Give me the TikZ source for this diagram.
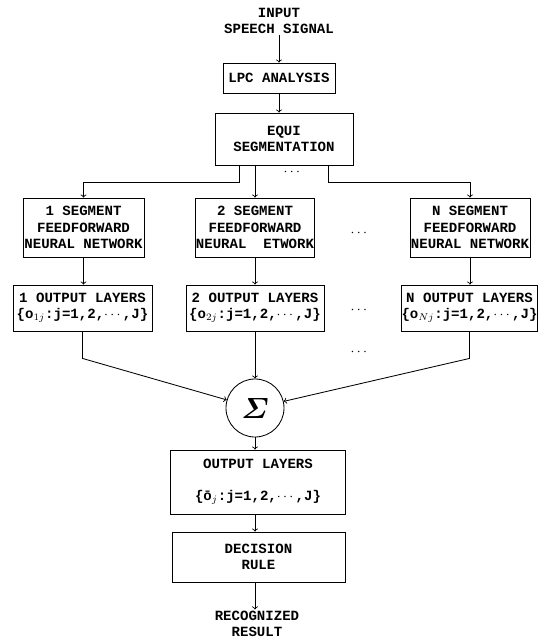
\documentclass[tikz,border=0pt]{standalone}
\usepackage{amsmath}
\usepackage{fontspec}
\setmonofont{Liberation Mono}

\tikzstyle{block}=[draw, semithick, align=center, inner sep=0pt, font=\ttfamily\bfseries\fontsize{10}{11.5}\selectfont]
\tikzstyle{plaintext}=[align=center, inner sep=1pt, font=\ttfamily\bfseries\fontsize{10}{11.5}\selectfont]
\tikzstyle{arrow}=[semithick, ->]
\tikzstyle{dots}=[font=\bfseries]

\begin{document}
\begin{tikzpicture}[x=0.025cm, y=-0.025cm]
      \useasboundingbox (0,0) rectangle (539,640);

      \node[plaintext] (input) at (279, 21) {INPUT\\SPEECH SIGNAL};
      \node[block, minimum width=2.8cm, minimum height=0.75cm] (lpc) at (279, 78) {LPC ANALYSIS};
      \node[block, minimum width=3.45cm, minimum height=1.3cm] (equi) at (284, 139) {EQUI\\SEGMENTATION};

      \node[block, minimum width=3.025cm, minimum height=1.475cm] (seg1) at (83.5, 227.5) {1 SEGMENT\\FEEDFORWARD\\NEURAL NETWORK};
      \node[block, minimum width=2.975cm, minimum height=1.475cm] (seg2) at (255, 227.5) {2 SEGMENT\\FEEDFORWARD\\NEURAL\ \ ETWORK};
      \node[block, minimum width=3.0cm, minimum height=1.475cm] (segN) at (470, 227.5) {N SEGMENT\\FEEDFORWARD\\NEURAL NETWORK};

      \node[block, minimum width=3.475cm, minimum height=1.15cm] (out1) at (82.5, 308) {1 OUTPUT LAYERS\\\{o$_{1j}$:j=1,2,$\cdots$,J\}};
      \node[block, minimum width=3.45cm, minimum height=1.15cm] (out2) at (255, 308) {2 OUTPUT LAYERS\\\{o$_{2j}$:j=1,2,$\cdots$,J\}};
      \node[block, minimum width=3.375cm, minimum height=1.15cm] (outN) at (469.5, 308) {N OUTPUT LAYERS\\\{o$_{Nj}$:j=1,2,$\cdots$,J\}};

      \node[draw, semithick, circle, minimum size=1.45cm, inner sep=0pt] (sum) at (255, 408) {\huge$\boldsymbol{\varSigma}$};

      \node[block, minimum width=4.375cm, minimum height=1.6cm] (outall) at (258, 482) {OUTPUT LAYERS\\[11pt]\{\={o}$_j$:j=1,2,$\cdots$,J\}};
      \node[block, minimum width=4.325cm, minimum height=1.25cm] (decision) at (258.5, 557) {DECISION\\RULE};
      \node[plaintext] (result) at (257, 624) {RECOGNIZED\\RESULT};

      \node[dots] (dotsA) at (293, 172) {$\cdots$};
      \node[dots] (dotsB) at (360, 233) {$\cdots$};
      \node[dots] (dotsC) at (360, 310) {$\cdots$};
      \node[dots] (dotsD) at (360, 352) {$\cdots$};

      \draw[arrow] (input) to (lpc);
      \draw[arrow] (lpc) to (lpc |- equi.north);
      \draw[arrow] (equi.south west) ++(25,0) -- ++(0,17) -| (seg1.north);
      \draw[arrow] (seg2.north |- equi.south) -- (seg2.north);
      \draw[arrow] (equi.south east) ++(-25,0) -- ++(0,17) -| (segN.north);

      \draw[arrow] (seg1.south) to (seg1.south |- out1.north);
      \draw[arrow] (seg2.south) to (seg2.south |- out2.north);
      \draw[arrow] (segN.south) to (segN.south |- outN.north);

      \draw[arrow] (out1.south) -- ++(0,27) -- (sum);
      \draw[arrow] (out2.south) to (sum.north);
      \draw[arrow] (outN.south) -- ++(0,27) -- (sum);

      \draw[arrow] (sum) to (sum |- outall.north);
      \draw[arrow] (outall.south -| sum) to (decision.north -| sum);
      \draw[arrow] (decision.south -| sum) to (result.north -| sum);
    \end{tikzpicture}
\end{document}
